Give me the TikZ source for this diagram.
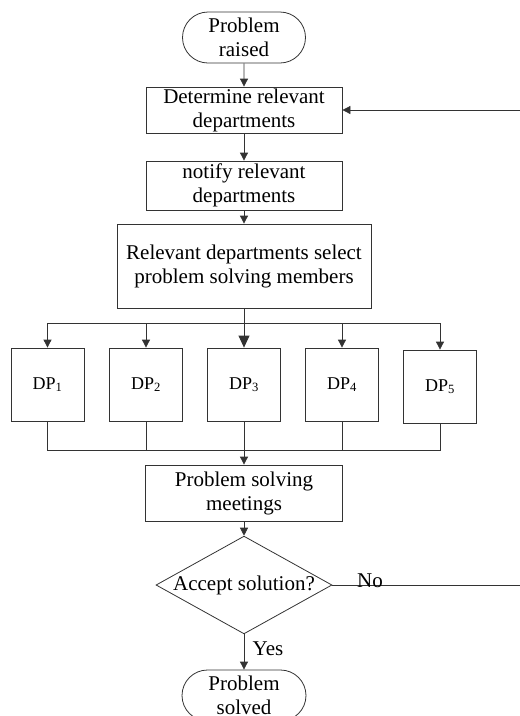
\documentclass[tikz,border=0pt]{standalone}
\usepackage{fontspec}
\setmainfont{Liberation Serif}
\usetikzlibrary{arrows.meta,shapes.geometric,shapes.misc}

\begin{document}
\begin{tikzpicture}[x=1pt, y=-1pt, line width=0.8pt, draw=black!80,
  every node/.style={draw=black!80, align=center, inner sep=0pt, font=\fontsize{21}{24}\selectfont},
  box/.style={rectangle},
  term/.style={rounded rectangle, minimum width=123pt, minimum height=51pt},
  decide/.style={diamond, aspect=1.8, minimum width=171pt, minimum height=96pt},
  dpbox/.style={rectangle, minimum width=73pt, minimum height=73pt, font=\fontsize{18}{22}\selectfont},
  lbl/.style={draw=none},
  arr/.style={-{Triangle[length=8pt,width=8pt]}}]
  \useasboundingbox (0,0) rectangle (520,716);
  \node[term] (raised) at (244,37.5) {Problem\\raised};
  \node[box, minimum width=196pt, minimum height=46pt] (determine) at (244,110) {Determine relevant\\departments};
  \node[box, minimum width=196pt, minimum height=49pt] (notify) at (244,185.5) {notify relevant\\departments};
  \node[box, minimum width=254pt, minimum height=84pt] (select) at (244,266) {Relevant departments select\\problem solving members};
  \foreach \i/\x/\y in {1/47.5/384.5, 2/146/384.5, 3/244/384.5, 4/342/384.5, 5/440/386.5}
    \node[dpbox] (dp\i) at (\x,\y) {DP\textsubscript{\i}};
  \node[box, minimum width=197pt, minimum height=56pt] (meeting) at (244,493) {Problem solving\\meetings};
  \node[decide] (accept) at (244,585) {Accept solution?};
  \node[term, minimum width=124pt] (solved) at (244,695.5) {Problem\\solved};
  \coordinate (split) at (244,323);
  \coordinate (join) at (244,450);
  \coordinate (back) at (530,585);
  \draw[arr] (raised) -- (determine);
  \draw[arr] (determine) -- (notify);
  \draw[arr] (notify) -- (select);
  \draw[-{Triangle[length=12pt,width=11pt]}] (select.south) -- (dp3.north);
  \foreach \i in {1,2,4,5}
    \draw[arr] (split) -| (dp\i.north);
  \foreach \i in {1,2,4,5}
    \draw (dp\i.south) |- (join);
  \draw[arr] (dp3.south) -- (meeting.north);
  \draw[arr] (meeting) -- (accept);
  \draw[arr] (accept.south) -- (solved.north);
  \draw[arr] (accept.east) -- (back) |- (determine.east);
  \node[lbl, anchor=base] (no) at (370,587) {No};
  \node[lbl, anchor=base] (yes) at (268,655) {Yes};
\end{tikzpicture}
\end{document}
